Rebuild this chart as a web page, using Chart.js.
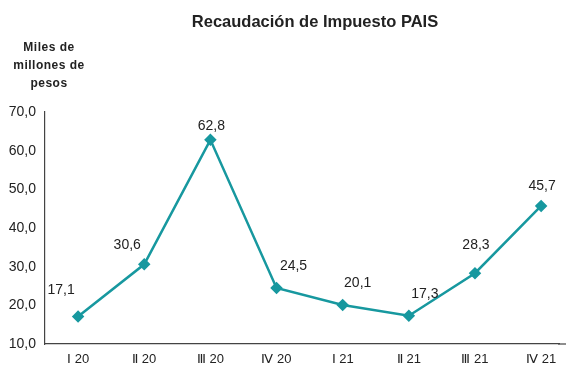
<!DOCTYPE html>
<html>
<head>
<meta charset="utf-8">
<script src="https://cdn.jsdelivr.net/npm/chart.js@4.4.1/dist/chart.umd.min.js"></script>
<style>
  html, body { margin: 0; padding: 0; background: #fff; }
  #wrap { width: 566px; height: 376px; position: relative; }
</style>
</head>
<body>
<div id="wrap"><canvas id="paisChart"></canvas></div>
<script>
// Quarters and collected amounts (miles de millones de pesos)
const quarters = ['Ⅰ 20', 'Ⅱ 20', 'Ⅲ 20', 'Ⅳ 20', 'Ⅰ 21', 'Ⅱ 21', 'Ⅲ 21', 'Ⅳ 21'];
const recaudacion = [17.1, 30.6, 62.8, 24.5, 20.1, 17.3, 28.3, 45.7];
const yTicks = [10, 20, 30, 40, 50, 60, 70];

// where each value label sits relative to its point
const labelOffsets = [[-17, -26], [-17, -19], [1, -14], [17, -22], [15, -22], [16, -22], [1, -28], [1, -20]];

const FONT = "'Liberation Sans', Arial, sans-serif";
const TEAL = '#17989f';

function fmt(v) {
    return v.toFixed(1).replace('.', ',');
}

// Title, axis caption and value labels
const textPlugin = {
    id: 'textPlugin',
    afterDatasetsDraw(chart) {
        const ctx = chart.ctx;
        const area = chart.chartArea;
        ctx.save();

        // run the baseline on to the right edge of the canvas
        ctx.strokeStyle = '#444';
        ctx.lineWidth = 1.2;
        ctx.beginPath();
        ctx.moveTo(area.right - 1, area.bottom);
        ctx.lineTo(chart.width, area.bottom);
        ctx.stroke();

        ctx.fillStyle = '#222';
        ctx.textAlign = 'center';
        ctx.textBaseline = 'middle';

        ctx.font = 'bold 16.5px ' + FONT;
        ctx.fillText('Recaudación de Impuesto PAIS', 315, 22);

        ctx.font = 'bold 12px ' + FONT;
        if ('letterSpacing' in ctx) ctx.letterSpacing = '0.5px';
        ctx.fillText('Miles de', 49, 48);
        ctx.fillText('millones de', 49, 66);
        ctx.fillText('pesos', 49, 84);
        if ('letterSpacing' in ctx) ctx.letterSpacing = '0px';

        ctx.font = '14px ' + FONT;
        const meta = chart.getDatasetMeta(0);
        meta.data.forEach((pt, i) => {
            const off = labelOffsets[i];
            ctx.fillText(fmt(recaudacion[i]), pt.x + off[0], pt.y + off[1]);
        });
        ctx.restore();
    }
};

let lineChart = null;

document.addEventListener('DOMContentLoaded', function() {
    const ctx = document.getElementById('paisChart').getContext('2d');

    lineChart = new Chart(ctx, {
        type: 'line',
        data: {
            datasets: [{
                data: recaudacion.map((v, i) => ({ x: i, y: v })),
                borderColor: TEAL,
                backgroundColor: TEAL,
                borderWidth: 2.5,
                pointStyle: 'rectRot',
                pointRadius: 4.5,
                pointBackgroundColor: TEAL,
                pointBorderColor: TEAL,
                tension: 0
            }]
        },
        options: {
            responsive: true,
            maintainAspectRatio: false,
            animation: false,
            layout: { padding: { top: 112, left: 0, right: 0, bottom: 0 } },
            scales: {
                x: {
                    type: 'linear',
                    min: -0.5,
                    max: 7.27,
                    grid: { display: false, drawTicks: false },
                    border: { display: true, color: '#444', width: 1.2 },
                    afterBuildTicks: axis => {
                        axis.ticks = quarters.map((_, i) => ({ value: i }));
                    },
                    afterFit: axis => { axis.height = 32; },
                    ticks: {
                        autoSkip: false,
                        maxRotation: 0,
                        padding: 8,
                        color: '#222',
                        font: { size: 13, family: FONT },
                        callback: v => quarters[v]
                    }
                },
                y: {
                    min: 10,
                    max: 70,
                    grid: { display: false, drawTicks: false },
                    border: { display: true, color: '#444', width: 1.2 },
                    afterBuildTicks: axis => {
                        axis.ticks = yTicks.map(v => ({ value: v }));
                    },
                    afterFit: axis => { axis.width = 45; },
                    ticks: {
                        padding: 9,
                        color: '#222',
                        font: { size: 14, family: FONT },
                        callback: v => fmt(v)
                    }
                }
            },
            plugins: {
                legend: { display: false },
                tooltip: { enabled: false }
            }
        },
        plugins: [textPlugin]
    });
});
</script>
</body>
</html>
